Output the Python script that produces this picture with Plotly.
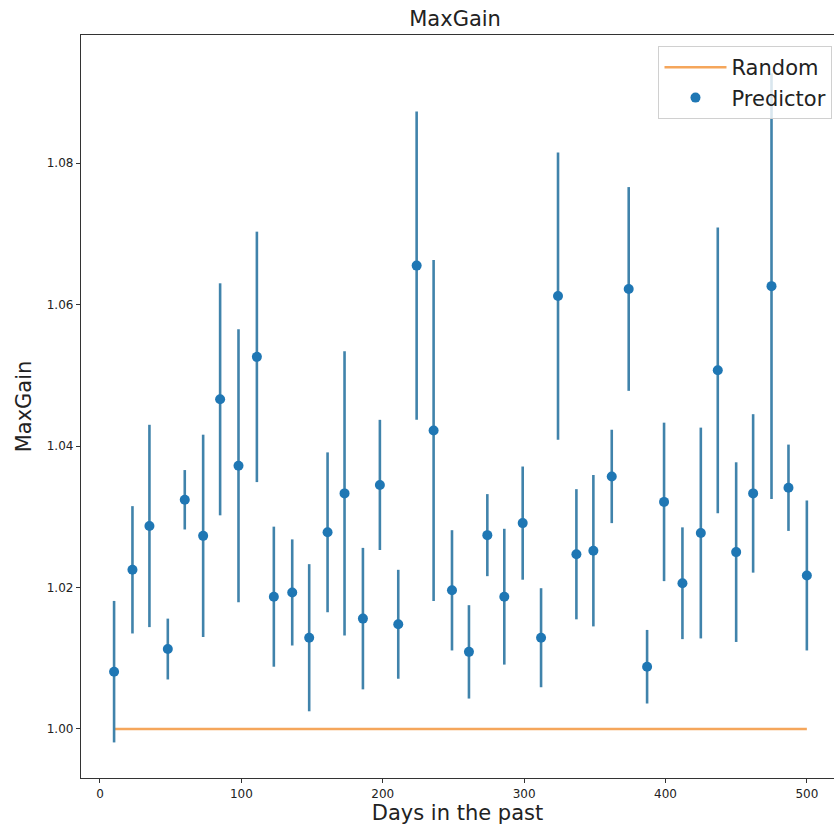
import plotly.graph_objects as go

days = [10, 23, 35, 48, 60, 73, 85, 98, 111, 123, 136, 148, 161, 173, 186, 198, 211, 224, 236, 249,
        261, 274, 286, 299, 312, 324, 337, 349, 362, 374, 387, 399, 412, 425, 437, 450, 462, 475, 487, 500]

maxgain = [1.0081, 1.0225, 1.0287, 1.0113, 1.0324, 1.0273, 1.0466, 1.0372, 1.0526, 1.0187,
           1.0193, 1.0129, 1.0278, 1.0333, 1.0156, 1.0345, 1.0148, 1.0655, 1.0422, 1.0196,
           1.0109, 1.0274, 1.0187, 1.0291, 1.0129, 1.0612, 1.0247, 1.0252, 1.0357, 1.0622,
           1.0088, 1.0321, 1.0206, 1.0277, 1.0507, 1.0250, 1.0333, 1.0626, 1.0341, 1.0217]

err = [0.0100, 0.0090, 0.0143, 0.0043, 0.0042, 0.0143, 0.0164, 0.0193, 0.0177, 0.0099,
       0.0075, 0.0104, 0.0113, 0.0201, 0.0100, 0.0092, 0.0077, 0.0218, 0.0241, 0.0085,
       0.0066, 0.0058, 0.0096, 0.0080, 0.0070, 0.0203, 0.0092, 0.0107, 0.0066, 0.0144,
       0.0052, 0.0112, 0.0079, 0.0149, 0.0202, 0.0127, 0.0112, 0.0301, 0.0061, 0.0106]

random_x = [10, 500]
random_y = [1.0, 1.0]

FONT = "DejaVu Sans"

fig = go.Figure()
fig.add_trace(go.Scatter(
    x=random_x, y=random_y, mode="lines", name="Random",
    line=dict(color="#f5a65b", width=2.5),
))
fig.add_trace(go.Scatter(
    x=days, y=maxgain, mode="markers", name="Predictor",
    marker=dict(color="#1f77b4", size=10),
    error_y=dict(type="data", array=err, visible=True, color="#4083ab", thickness=2.6, width=0),
))

fig.update_layout(
    width=835, height=828,
    margin=dict(l=81, r=1, t=35, b=50),
    paper_bgcolor="white", plot_bgcolor="white",
    font=dict(family=FONT, color="#222222"),
    title=dict(text="MaxGain", x=0.545, xanchor="center", y=0.977, yanchor="middle",
               font=dict(size=21, family=FONT, color="#222222")),
    showlegend=True,
    legend=dict(x=0.998, xanchor="right", y=0.985, yanchor="top",
                bgcolor="rgba(255,255,255,0.8)", bordercolor="#d0d0d0", borderwidth=1,
                itemwidth=62,
                font=dict(size=21, family=FONT, color="#222222"), tracegroupgap=0),
)

fig.update_xaxes(
    range=[-13.4, 519.2], showgrid=False, zeroline=False,
    showline=True, linecolor="#333333", linewidth=1.3, mirror=True,
    ticks="outside", ticklen=4, tickcolor="#333333",
    tickvals=[0, 100, 200, 300, 400, 500],
    tickfont=dict(size=12, family=FONT, color="#222222"),
    title=dict(text="Days in the past", font=dict(size=21, family=FONT, color="#222222"), standoff=5),
)
fig.update_yaxes(
    range=[0.99307, 1.0981], showgrid=False, zeroline=False,
    showline=True, linecolor="#333333", linewidth=1.3, mirror=False,
    ticks="outside", ticklen=4, tickcolor="#333333",
    tickvals=[1.00, 1.02, 1.04, 1.06, 1.08], tickformat=".2f",
    tickfont=dict(size=12, family=FONT, color="#222222"),
    title=dict(text="MaxGain", font=dict(size=21, family=FONT, color="#222222"), standoff=9),
)

fig.write_html("out.html")
